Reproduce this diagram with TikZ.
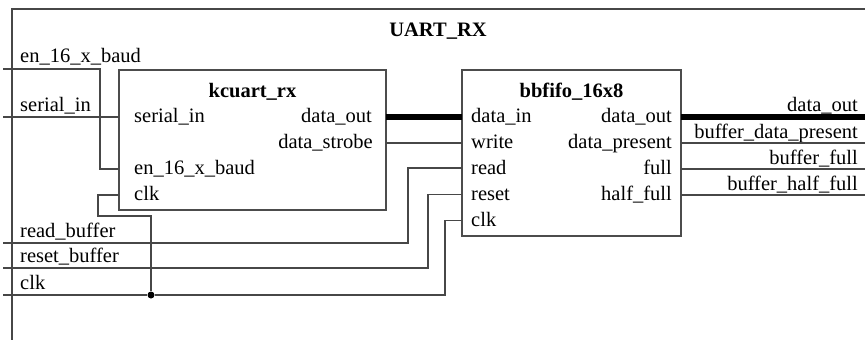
\documentclass[tikz,border=0pt]{standalone}
\usepackage{fontspec}
\setmainfont{Liberation Serif}
\begin{document}
\begin{tikzpicture}[x=1pt,y=-1pt,
  wire/.style={draw=black!72,line width=1.3pt},
  bus/.style={draw=black,line width=6pt},
  blk/.style={draw=black!70,line width=1.4pt,inner sep=0pt,rectangle},
  txt/.style={inner sep=0pt,font=\fontsize{20.5}{24}\selectfont},
  ttl/.style={inner sep=0pt,font=\fontsize{20.5}{24}\selectfont\bfseries},
  dot/.style={circle,fill=black,inner sep=0pt,minimum size=7pt}]
\useasboundingbox (0,0) rectangle (865,340);
\fill[white] (0,0) rectangle (865,340);
% outer frame (top and left edges visible)
\coordinate (frTR) at (865,9);
\coordinate (frTL) at (12,9);
\coordinate (frBL) at (12,340);
\draw[wire] (frTR) -- (frTL) -- (frBL);
\node[ttl,anchor=base] (title) at (438,36) {UART\_RX};
% blocks
\node[blk,minimum width=267pt,minimum height=140pt] (kc) at (252.5,140) {};
\node[blk,minimum width=219pt,minimum height=166pt] (bb) at (571.5,153) {};
\node[ttl,anchor=base] (kct) at (252.5,97) {kcuart\_rx};
\node[ttl,anchor=base] (bbt) at (571.5,97) {bbfifo\_16x8};
% kcuart ports
\node[txt,anchor=base west] (kcsiL) at (134,122.5) {serial\_in};
\node[txt,anchor=base west] (kcenL) at (134,174) {en\_16\_x\_baud};
\node[txt,anchor=base west] (kcclL) at (134,200) {clk};
\node[txt,anchor=base east] (kcdoL) at (372,122.5) {data\_out};
\node[txt,anchor=base east] (kcdsL) at (373,148.5) {data\_strobe};
% bbfifo ports
\node[txt,anchor=base west] (bbdiL) at (471,122.5) {data\_in};
\node[txt,anchor=base west] (bbwrL) at (471,148.5) {write};
\node[txt,anchor=base west] (bbrdL) at (471,174) {read};
\node[txt,anchor=base west] (bbrsL) at (471,200) {reset};
\node[txt,anchor=base west] (bbclL) at (471,226) {clk};
\node[txt,anchor=base east] (bbdoL) at (672,122.5) {data\_out};
\node[txt,anchor=base east] (bbdpL) at (672,148.5) {data\_present};
\node[txt,anchor=base east] (bbfuL) at (672,174) {full};
\node[txt,anchor=base east] (bbhfL) at (672,200) {half\_full};
% pins
\coordinate (kcsi) at (119,117);
\coordinate (kcen) at (119,169);
\coordinate (kccl) at (119,195);
\coordinate (kcdo) at (386,117);
\coordinate (kcds) at (386,143);
\coordinate (bbdi) at (462,117);
\coordinate (bbwr) at (462,143);
\coordinate (bbrd) at (462,168);
\coordinate (bbrs) at (462,194.5);
\coordinate (bbcl) at (462,220.5);
\coordinate (bbdo) at (681,117);
\coordinate (bbdp) at (681,143);
\coordinate (bbfu) at (681,169);
\coordinate (bbhf) at (681,195);
% external ends
\coordinate (inEn) at (3,69);
\coordinate (inSi) at (3,117);
\coordinate (inRd) at (3,243);
\coordinate (inRs) at (3,268);
\coordinate (inCl) at (3,295);
\coordinate (outDo) at (865,117);
\coordinate (outDp) at (865,143);
\coordinate (outFu) at (865,169);
\coordinate (outHf) at (865,195);
% external labels
\node[txt,anchor=base west] (lEn) at (20,62) {en\_16\_x\_baud};
\node[txt,anchor=base west] (lSi) at (20,111.5) {serial\_in};
\node[txt,anchor=base west] (lRd) at (20,237.5) {read\_buffer};
\node[txt,anchor=base west] (lRs) at (20,262.5) {reset\_buffer};
\node[txt,anchor=base west] (lCl) at (20,289.5) {clk};
\node[txt,anchor=base east] (lDo) at (858,111.5) {data\_out};
\node[txt,anchor=base east] (lDp) at (858,138.5) {buffer\_data\_present};
\node[txt,anchor=base east] (lFu) at (858,164) {buffer\_full};
\node[txt,anchor=base east] (lHf) at (858,190) {buffer\_half\_full};
% junction
\node[dot] (j) at (151,295) {};
% wires
\draw[wire] (inEn) -| (100,169) -- (kcen);
\draw[wire] (inSi) -- (kcsi);
\draw[wire] (kccl) -- (98,195) -- (98,216) -| (j);
\draw[wire] (inRd) -| (408,168) -- (bbrd);
\draw[wire] (inRs) -| (428,194.5) -- (bbrs);
\draw[wire] (inCl) -- (j) -- (445,295) -- (445,220.5) -- (bbcl);
\draw[bus] (kcdo) -- (bbdi);
\draw[wire] (kcds) -- (bbwr);
\draw[bus] (bbdo) -- (outDo);
\draw[wire] (bbdp) -- (outDp);
\draw[wire] (bbfu) -- (outFu);
\draw[wire] (bbhf) -- (outHf);
\end{tikzpicture}
\end{document}
